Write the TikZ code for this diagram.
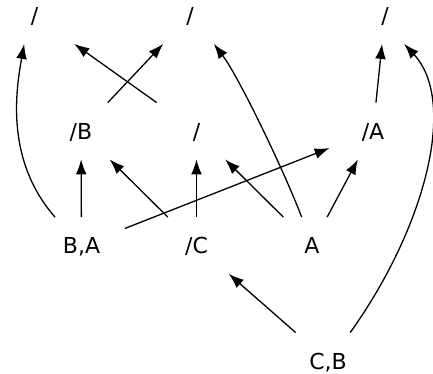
\documentclass[tikz,border=0pt]{standalone}
\usepackage{fontspec}
\setmainfont{DejaVu Sans}
\usepackage{tikz}
\usetikzlibrary{arrows.meta}

\begin{document}
\begin{tikzpicture}[
  x=0.5pt, y=-0.5pt,
  state/.style={
    rectangle,
    inner sep=0pt,
    minimum width=43pt,
    minimum height=28pt,
    text height=8pt,
    text depth=0pt,
    font=\fontsize{11pt}{13pt}\selectfont
  },
  arrow/.style={-{Latex[length=7.5pt, width=5.4pt]}, line width=0.65pt, draw=black}
]
  \useasboundingbox (0,0) rectangle (433,374);

  \node[state] (top1) at (34.5,15.5) {/};
  \node[state] (top2) at (190,15.5) {/};
  \node[state] (top3) at (385,15.5) {/};

  \node[state] (slB) at (81,131) {/B};
  \node[state] (sl) at (196.5,131) {/};
  \node[state] (slA) at (373,131) {/A};

  \node[state] (BA) at (81.5,245.5) {B,A};
  \node[state] (slC) at (196.5,245.5) {/C};
  \node[state] (A) at (312,245.5) {A};

  \node[state] (CB) at (328,361) {C,B};

  \draw[arrow] (BA) -- (slB);
  \draw[arrow] (BA) -- (slA);
  \draw[arrow] (slC) -- (slB);
  \draw[arrow] (slC) -- (sl);
  \draw[arrow] (slB) -- (top2);
  \draw[arrow] (sl) -- (top1);
  \draw[arrow] (A) -- (sl);
  \draw[arrow] (A) -- (slA);
  \draw[arrow] (slA) -- (top3);
  \draw[arrow] (CB) -- (slC);

  \draw[arrow] (BA.133) .. controls (5,160) and (16,90) .. (top1.250);
  \draw[arrow] (A.110) .. controls (285,173) and (239,77) .. (top2.310);
  \draw[arrow] (CB.52) .. controls (425,228) and (458,102) .. (top3.304);
\end{tikzpicture}
\end{document}
